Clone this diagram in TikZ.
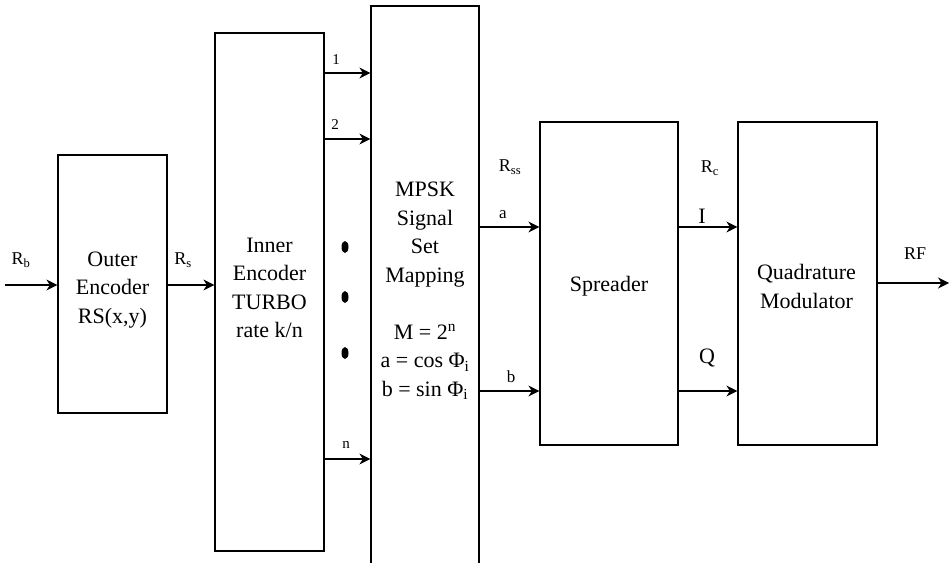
\documentclass[tikz,border=0pt]{standalone}
\usepackage{fontspec}
\setmainfont{Liberation Serif}
\usetikzlibrary{arrows.meta,shapes.geometric}
\begin{document}
\begin{tikzpicture}[x=1pt,y=-1pt,
  blk/.style={draw,line width=1.2pt,inner sep=0pt},
  txt/.style={align=center,inner sep=0pt,font=\fontsize{22}{28.5}\selectfont},
  arr/.style={line width=1.2pt,-{Stealth[length=11pt,width=11pt,inset=3.5pt]}},
  big/.style={inner sep=0pt,font=\fontsize{22}{24}\selectfont},
  lab/.style={inner sep=0pt,font=\fontsize{18}{21}\selectfont},
  sml/.style={inner sep=0pt,font=\fontsize{17}{19}\selectfont},
  tiny/.style={inner sep=0pt,font=\fontsize{15}{17}\selectfont},
  bullet/.style={ellipse,fill,inner sep=0pt,minimum width=7pt,minimum height=12pt}]
\useasboundingbox (0,0) rectangle (949,562);
\clip (0,0) rectangle (949,562);

% processing blocks
\node[blk,minimum width=109pt,minimum height=258pt] (outer) at (112.5,284) {};
\node[blk,minimum width=109pt,minimum height=518pt] (inner) at (269.5,292) {};
\node[blk,minimum width=108pt,minimum height=562pt] (mpsk) at (425,287) {};
\node[blk,minimum width=138pt,minimum height=323pt] (spread) at (609,283.5) {};
\node[blk,minimum width=139pt,minimum height=323pt] (quad) at (807.5,283.5) {};

% block captions
\node[txt] (outertxt) at (112.5,290) {Outer\\Encoder\\RS(x,y)};
\node[txt] (innertxt) at (269.5,288) {Inner\\Encoder\\TURBO\\rate k/n};
\node[txt] (mpsktxt) at (425,291) {MPSK\\Signal\\Set\\Mapping\\[28.5pt]M = 2\textsuperscript{n}\\a = cos Φ\textsubscript{i}\\b = sin Φ\textsubscript{i}};
\node[txt] (spreadtxt) at (609,286) {Spreader};
\node[txt] (quadtxt) at (806.5,286.5) {Quadrature\\Modulator};

% input and output ends
\coordinate (rbin) at (5,285);
\coordinate (rfout) at (949,283);

% connectors
\draw[arr] (rbin) -- (outer.west |- rbin);
\draw[arr] (outer.east |- 0,285) -- (inner.west |- 0,285);
\draw[arr] (inner.east |- 0,73) -- (mpsk.west |- 0,73);
\draw[arr] (inner.east |- 0,139) -- (mpsk.west |- 0,139);
\draw[arr] (inner.east |- 0,459) -- (mpsk.west |- 0,459);
\draw[arr] (mpsk.east |- 0,227) -- (spread.west |- 0,227);
\draw[arr] (mpsk.east |- 0,391) -- (spread.west |- 0,391);
\draw[arr] (spread.east |- 0,227) -- (quad.west |- 0,227);
\draw[arr] (spread.east |- 0,391) -- (quad.west |- 0,391);
\draw[arr] (quad.east |- rfout) -- (rfout);

% ellipsis between the parallel outputs
\node[bullet] (d1) at (345,247) {};
\node[bullet] (d2) at (345,297) {};
\node[bullet] (d3) at (345,353) {};

% connector labels
\node[lab] (lrb) at (21,260) {R\textsubscript{b}};
\node[lab] (lrs) at (183,260) {R\textsubscript{s}};
\node[lab] (lrss) at (510,167) {R\textsubscript{ss}};
\node[lab] (lrc) at (710,168) {R\textsubscript{c}};
\node[tiny] (l1) at (336,60) {1};
\node[tiny] (l2) at (335,125) {2};
\node[tiny] (ln) at (346,445) {n};
\node[sml] (la) at (503,215) {a};
\node[sml] (lb) at (511,377) {b};
\node[big] (li) at (702,216) {I};
\node[big] (lq) at (707,358) {Q};
\node[lab] (lrf) at (915,254) {RF};
\end{tikzpicture}
\end{document}
